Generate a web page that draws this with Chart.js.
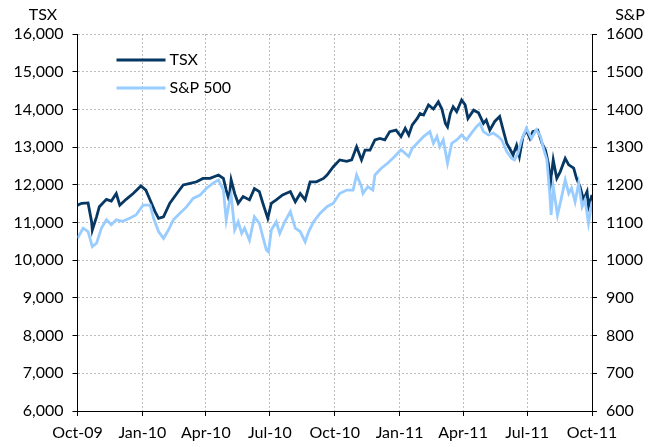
<!DOCTYPE html>
<html>
<head>
<meta charset="utf-8">
<script src="https://cdn.jsdelivr.net/npm/chart.js@4"></script>
<style>
  body { margin: 0; background: #fff; }
  #wrap { width: 648px; height: 447px; }
</style>
</head>
<body>
<div id="wrap"><canvas id="chart"></canvas></div>
<script>
// days counted from 1 Oct 2009
var tickDays = [0, 92, 182, 273, 365, 457, 547, 638, 730];
var tickLabels = ["Oct-09", "Jan-10", "Apr-10", "Jul-10", "Oct-10", "Jan-11", "Apr-11", "Jul-11", "Oct-11"];

var tsxDays = [0,6,15,20,21,27,31,41,48,55,60,69,79,90,97,105,110,115,122,131,141,150,160,169,178,188,200,207,211,215,218,223,228,235,244,251,258,263,270,275,282,291,302,309,316,323,330,339,349,354,363,372,382,389,396,403,408,415,422,429,436,443,452,459,465,470,475,482,486,491,498,505,512,517,522,525,529,533,538,545,550,554,562,569,576,580,585,592,599,604,609,613,618,623,627,632,637,642,646,653,659,664,668,671,675,680,685,692,697,704,708,713,718,723,725,730];
var tsxVals = [11460,11510,11520,11020,10800,11150,11420,11615,11570,11770,11460,11615,11770,11970,11860,11510,11290,11110,11150,11510,11770,11995,12040,12080,12170,12170,12260,12170,11860,11600,12130,11770,11510,11690,11600,11900,11820,11510,11110,11510,11600,11730,11820,11550,11770,11600,12080,12080,12170,12260,12480,12660,12620,12660,13010,12660,12920,12920,13190,13230,13190,13410,13450,13280,13500,13320,13590,13760,13890,13850,14120,14010,14200,14010,13630,13540,13890,14070,13940,14250,14120,13760,13980,13910,13630,13720,13450,13680,13810,13450,13100,12970,12790,13050,12750,13270,13450,13230,13410,13450,13100,12920,12570,12040,12660,12170,12350,12700,12530,12440,12170,11950,11600,11820,11420,11730];

var spDays = [0,8,15,21,27,34,41,48,55,64,74,83,93,103,108,115,122,129,136,145,155,164,174,183,192,200,207,211,215,218,223,228,233,237,244,251,258,263,268,271,275,282,287,294,302,309,316,323,328,335,344,354,363,372,382,391,396,403,405,412,419,422,431,440,450,459,470,475,484,491,500,505,510,514,519,525,531,538,545,552,559,566,571,576,583,590,597,602,609,616,620,625,630,637,644,651,657,661,666,670,672,675,681,686,692,697,701,706,711,716,720,725,730];
var spVals = [1058,1085,1076,1036,1045,1085,1107,1094,1107,1103,1111,1120,1146,1146,1111,1076,1058,1080,1107,1124,1142,1164,1173,1191,1204,1213,1186,1107,1151,1173,1080,1102,1071,1085,1053,1115,1098,1062,1027,1022,1080,1102,1071,1102,1129,1085,1076,1049,1076,1102,1124,1142,1151,1177,1186,1186,1226,1195,1177,1195,1186,1226,1244,1257,1275,1293,1275,1297,1314,1328,1341,1310,1328,1301,1319,1257,1310,1319,1332,1319,1337,1354,1363,1341,1332,1337,1328,1319,1288,1270,1266,1284,1319,1350,1323,1346,1328,1297,1266,1177,1120,1195,1120,1160,1213,1177,1191,1155,1204,1142,1160,1098,1155];

function pairs(xs, ys) {
  return xs.map(function (x, i) { return { x: x, y: ys[i] }; });
}

var font = "Lato, 'Open Sans', sans-serif";
var darkBlue = "#073763";
var lightBlue = "#99ccff";

// axis titles and in-plot legend
var extras = {
  id: "extras",
  afterDraw: function (chart) {
    var c = chart.ctx, a = chart.chartArea;
    c.save();
    c.fillStyle = "#000";
    c.font = "16px " + font;
    c.textBaseline = "middle";
    c.textAlign = "center";
    c.fillText("TSX", 43, 15);
    c.fillText("S&P", 630, 15);
    var items = [["TSX", darkBlue, 60], ["S&P 500", lightBlue, 88]];
    items.forEach(function (it) {
      c.strokeStyle = it[1];
      c.lineWidth = 3;
      c.beginPath();
      c.moveTo(a.left + 39, it[2]);
      c.lineTo(a.left + 88, it[2]);
      c.stroke();
      c.textAlign = "left";
      c.fillStyle = "#000";
      c.fillText(it[0], a.left + 92, it[2]);
    });
    c.restore();
  }
};

var ctx = document.getElementById("chart").getContext("2d");
var chart = new Chart(ctx, {
  type: "line",
  data: {
    datasets: [{
      label: "TSX",
      data: pairs(tsxDays, tsxVals),
      borderColor: darkBlue,
      borderWidth: 2.8,
      yAxisID: "y",
      order: 1
    }, {
      label: "S&P 500",
      data: pairs(spDays, spVals),
      borderColor: lightBlue,
      borderWidth: 2.8,
      yAxisID: "y2",
      order: 0
    }]
  },
  options: {
    responsive: true,
    maintainAspectRatio: false,
    animation: false,
    layout: { padding: { top: 34, left: 0, right: 0, bottom: 0 } },
    elements: { point: { radius: 0 }, line: { tension: 0 } },
    plugins: { legend: { display: false }, tooltip: { enabled: false } },
    scales: {
      x: {
        type: "linear",
        min: 0,
        max: 730,
        afterBuildTicks: function (s) { s.ticks = tickDays.map(function (v) { return { value: v }; }); },
        afterFit: function (s) { s.height = 36; },
        ticks: {
          autoSkip: false,
          maxRotation: 0,
          padding: 7,
          color: "#000",
          font: { family: font, size: 16 },
          callback: function (v) { return tickLabels[tickDays.indexOf(v)]; }
        },
        grid: { color: "#bdbdbd", tickColor: "#000", tickLength: 5, tickBorderDash: [] },
        border: { color: "#000", width: 1, dash: [2, 2] }
      },
      y: {
        position: "left",
        min: 6000,
        max: 16000,
        afterFit: function (s) { s.width = 77.5; },
        ticks: {
          stepSize: 1000,
          padding: 9,
          color: "#000",
          font: { family: font, size: 16 },
          callback: function (v) { return v.toLocaleString("en-US"); }
        },
        grid: { color: "#bdbdbd", tickColor: "#000", tickLength: 5, tickBorderDash: [] },
        border: { color: "#000", width: 1, dash: [2, 2] }
      },
      y2: {
        position: "right",
        min: 600,
        max: 1600,
        afterFit: function (s) { s.width = 56; },
        ticks: {
          stepSize: 100,
          padding: 9,
          color: "#000",
          font: { family: font, size: 16 },
          callback: function (v) { return String(v); }
        },
        grid: { drawOnChartArea: false, tickColor: "#000", tickLength: 5, tickBorderDash: [] },
        border: { color: "#000", width: 1 }
      }
    }
  },
  plugins: [extras]
});
</script>
</body>
</html>
